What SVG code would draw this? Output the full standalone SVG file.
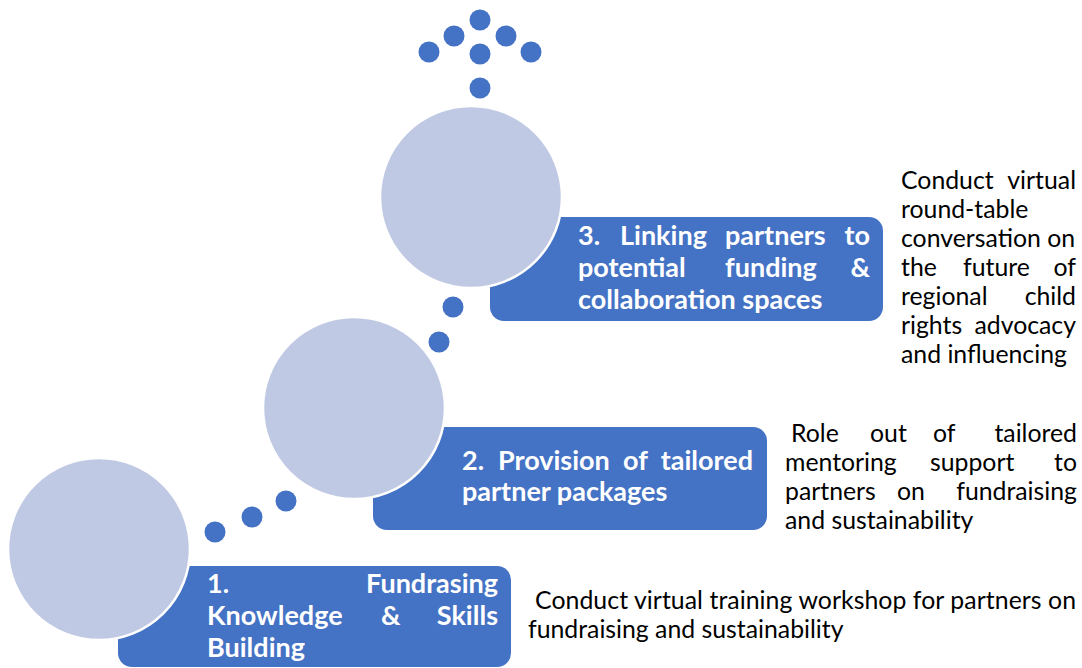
<svg xmlns="http://www.w3.org/2000/svg" width="1082" height="668" viewBox="0 0 1082 668">
<style>
.box{fill:#4472C4}
.circ{fill:#BFC9E3;stroke:#FFFFFF;stroke-width:2.5}
.dot{fill:#4472C4}
.bt{font-family:Lato,"Open Sans",sans-serif;font-weight:bold;font-size:27px;fill:#FFFFFF}
.rt{font-family:Lato,"Open Sans",sans-serif;font-size:24.8px;fill:#000000}
.e{text-anchor:end}
</style>
<rect x="0" y="0" width="1082" height="668" fill="#FFFFFF"/>
<g id="connectors">
<circle class="dot" cx="215" cy="532" r="10.5"/>
<circle class="dot" cx="252" cy="517" r="10.5"/>
<circle class="dot" cx="286" cy="501" r="10.5"/>
<circle class="dot" cx="439" cy="342" r="10.5"/>
<circle class="dot" cx="453" cy="307" r="10.5"/>
<circle class="dot" cx="480" cy="88" r="10.5"/>
<circle class="dot" cx="480" cy="54" r="10.5"/>
<circle class="dot" cx="429" cy="52" r="10.5"/>
<circle class="dot" cx="531" cy="52" r="10.5"/>
<circle class="dot" cx="454" cy="36" r="10.5"/>
<circle class="dot" cx="506" cy="36" r="10.5"/>
<circle class="dot" cx="480" cy="20" r="10.5"/>
</g>
<g id="step1">
<rect class="box" x="118" y="566" width="393" height="101" rx="14"/>
<circle class="circ" cx="99" cy="549" r="91"/>
<text class="bt" x="207" y="593">1.</text>
<text class="bt e" x="498" y="593">Fundrasing</text>
<text class="bt" x="207" y="625">Knowledge</text>
<text class="bt" x="381" y="625">&amp;</text>
<text class="bt e" x="498" y="625">Skills</text>
<text class="bt" x="207" y="657">Building</text>
</g>
<g id="step2">
<rect class="box" x="373" y="427" width="394" height="103" rx="14"/>
<circle class="circ" cx="354" cy="408" r="91"/>
<text class="bt" x="462" y="470">2.</text>
<text class="bt" x="498" y="470">Provision</text>
<text class="bt" x="623" y="470">of</text>
<text class="bt e" x="753" y="470">tailored</text>
<text class="bt" x="462" y="501">partner packages</text>
</g>
<g id="step3">
<rect class="box" x="490" y="217" width="393" height="104" rx="14"/>
<circle class="circ" cx="471" cy="197" r="91"/>
<text class="bt" x="578" y="245">3.</text>
<text class="bt" x="620" y="245">Linking</text>
<text class="bt" x="725" y="245">partners</text>
<text class="bt e" x="870" y="245">to</text>
<text class="bt" x="578" y="277">potential</text>
<text class="bt" x="725" y="277">funding</text>
<text class="bt e" x="870" y="277">&amp;</text>
<text class="bt" x="578" y="309">collaboration spaces</text>
</g>
<g id="desc1">
<text class="rt" x="535" y="609" textLength="541" lengthAdjust="spacing">Conduct virtual training workshop for partners on</text>
<text class="rt" x="528" y="638">fundraising and sustainability</text>
</g>
<g id="desc2">
<text class="rt" x="791" y="442">Role</text>
<text class="rt" x="870" y="442">out</text>
<text class="rt" x="933" y="442">of</text>
<text class="rt e" x="1077" y="442">tailored</text>
<text class="rt" x="785" y="471">mentoring</text>
<text class="rt" x="930" y="471">support</text>
<text class="rt e" x="1077" y="471">to</text>
<text class="rt" x="785" y="500">partners</text>
<text class="rt" x="897" y="500">on</text>
<text class="rt e" x="1077" y="500">fundraising</text>
<text class="rt" x="785" y="529">and sustainability</text>
</g>
<g id="desc3">
<text class="rt" x="901" y="189">Conduct</text>
<text class="rt e" x="1076" y="189">virtual</text>
<text class="rt" x="901" y="218">round-table</text>
<text class="rt" x="901" y="247">conversation on</text>
<text class="rt" x="901" y="276">the</text>
<text class="rt" x="963" y="276">future</text>
<text class="rt e" x="1076" y="276">of</text>
<text class="rt" x="901" y="305">regional</text>
<text class="rt e" x="1076" y="305">child</text>
<text class="rt" x="901" y="334">rights</text>
<text class="rt e" x="1076" y="334">advocacy</text>
<text class="rt" x="901" y="363">and influencing</text>
</g>
</svg>
